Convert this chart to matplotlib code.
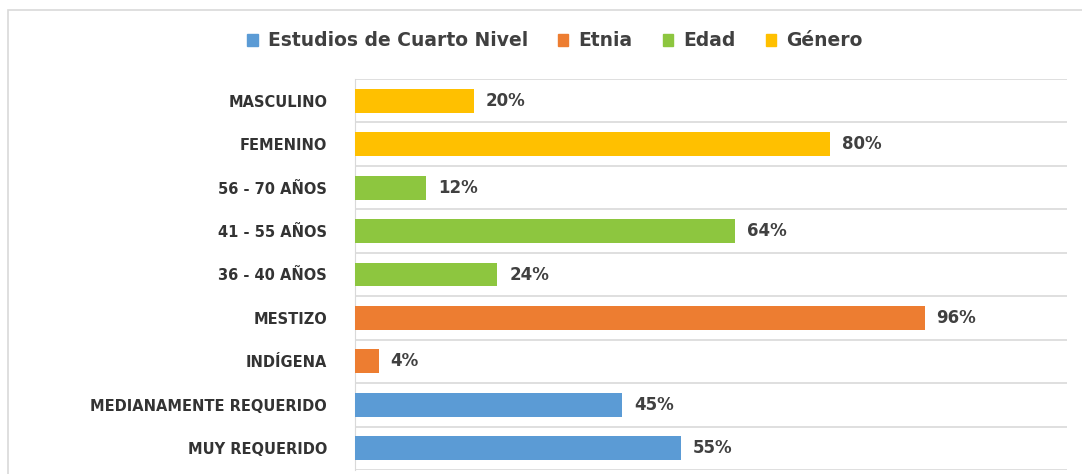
import numpy as np
import matplotlib.pyplot as plt
from matplotlib.patches import Patch, Rectangle

# data, bottom to top
categories = ['MUY REQUERIDO', 'MEDIANAMENTE REQUERIDO', 'INDÍGENA', 'MESTIZO',
              '36 - 40 AÑOS', '41 - 55 AÑOS', '56 - 70 AÑOS', 'FEMENINO', 'MASCULINO']
values = [0.55, 0.45, 0.04, 0.96, 0.24, 0.64, 0.12, 0.80, 0.20]
groups = ['Estudios de Cuarto Nivel', 'Estudios de Cuarto Nivel', 'Etnia', 'Etnia',
          'Edad', 'Edad', 'Edad', 'Género', 'Género']
group_names = ['Estudios de Cuarto Nivel', 'Etnia', 'Edad', 'Género']
group_colors = {'Estudios de Cuarto Nivel': '#5B9BD5', 'Etnia': '#ED7D31',
                'Edad': '#8DC63F', 'Género': '#FFC000'}

plt.rcParams['font.family'] = ['DejaVu Sans']

fig = plt.figure(figsize=(10.82, 4.74), dpi=100)
# outer chart frame
fig.patches.append(Rectangle((8 / 1082, -0.1), 1.2, 1.1 - 10 / 474, transform=fig.transFigure,
                             fill=False, edgecolor='#d9d9d9', linewidth=1.2))
ax = fig.add_axes([355 / 1082, 4 / 474, (1067 - 355) / 1082, (395 - 4) / 474])

y = np.arange(len(categories))
cols = [group_colors[g] for g in groups]
ax.barh(y, values, height=0.55, color=cols, zorder=3)

for yi, v in zip(y, values):
    ax.text(v + 0.02, yi, '{:.0f}%'.format(v * 100), va='center', ha='left',
            fontsize=12, fontweight='bold', color='#404040')

ax.set_xlim(0, 1.2)
ax.set_ylim(-0.5, len(categories) - 0.5)
ax.set_yticks(y)
ax.set_yticklabels(categories, fontsize=10.5, fontweight='bold', color='#333333')
ax.set_yticks(np.arange(-0.5, len(categories)), minor=True)
ax.grid(which='minor', axis='y', color='#d9d9d9', linewidth=1.2, zorder=0)
ax.tick_params(axis='y', which='both', length=0, pad=20)
ax.set_xticks([])
for s in ['top', 'right', 'bottom']:
    ax.spines[s].set_visible(False)
ax.spines['left'].set_color('#d9d9d9')

handles = [Patch(color=group_colors[g]) for g in group_names]
fig.legend(handles, group_names, loc='center', bbox_to_anchor=(555 / 1082, 1 - 41 / 474),
           ncol=4, frameon=False, handlelength=0.55, handleheight=0.55,
           handletextpad=0.55, columnspacing=1.6,
           prop={'weight': 'bold', 'size': 13.5})
for t in fig.legends[0].get_texts():
    t.set_color('#404040')

fig.savefig('out.png', dpi=100)
